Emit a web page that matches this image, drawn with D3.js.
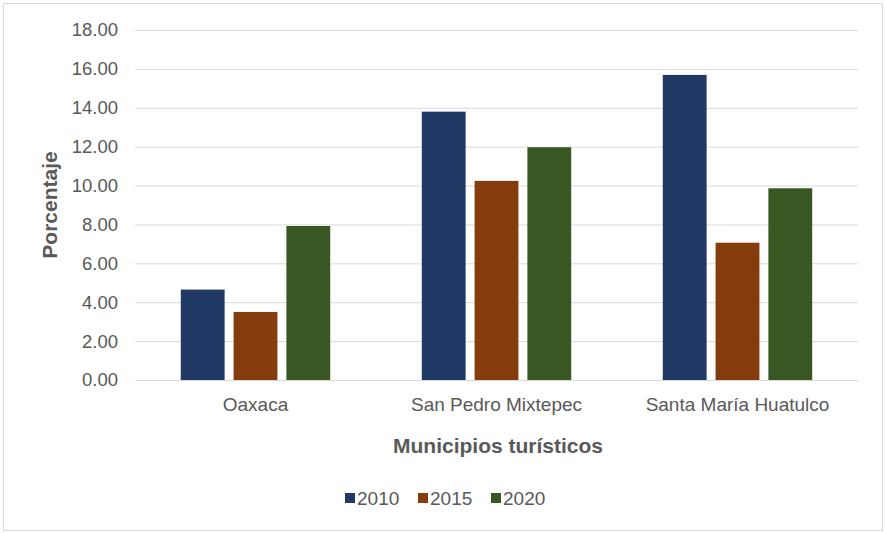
<!DOCTYPE html>
<html>
<head>
<meta charset="utf-8">
<script src="https://cdn.jsdelivr.net/npm/d3@7"></script>
<style>
  html, body { margin: 0; padding: 0; background: #ffffff; }
  svg { display: block; }
</style>
</head>
<body>
<svg id="chart" width="885" height="533"></svg>
<script>
const categories = ["Oaxaca", "San Pedro Mixtepec", "Santa María Huatulco"];
const years = ["2010", "2015", "2020"];
const values2010 = [4.65, 13.80, 15.69];
const values2015 = [3.50, 10.24, 7.06];
const values2020 = [7.92, 11.97, 9.86];
const yTicks = [0, 2, 4, 6, 8, 10, 12, 14, 16, 18];
const colors = ["#203864", "#843C0C", "#385723"];
const yTitle = "Porcentaje";
const xTitle = "Municipios turísticos";

const series = [values2010, values2015, values2020];
const data = categories.map((c, i) => ({
  category: c,
  values: years.map((y, j) => ({ year: y, value: series[j][i] }))
}));

const svg = d3.select("#chart");
const textColor = "#595959";
const fontFamily = "'Liberation Sans', Arial, sans-serif";

// outer border
svg.append("rect")
  .attr("x", 3.5).attr("y", 3.5)
  .attr("width", 879).attr("height", 527)
  .attr("fill", "#ffffff")
  .attr("stroke", "#d9d9d9").attr("stroke-width", 1);

const x0 = d3.scaleBand().domain(categories).range([135, 858])
  .paddingInner(0.38).paddingOuter(0.19);
const x1 = d3.scaleBand().domain(years).range([0, x0.bandwidth()])
  .paddingInner(0.17);
const y = d3.scaleLinear().domain([0, 18]).range([380, 30]);
const color = d3.scaleOrdinal().domain(years).range(colors);

// gridlines + y labels via axis
const yAxis = d3.axisLeft(y).tickValues(yTicks)
  .tickSize(-(858 - 135)).tickPadding(17)
  .tickFormat(d3.format(".2f"));
const gy = svg.append("g").attr("transform", "translate(135,0)").call(yAxis);
gy.select(".domain").remove();
gy.selectAll(".tick line").attr("stroke", "#d9d9d9").attr("stroke-width", 1);
gy.selectAll(".tick text")
  .attr("fill", textColor)
  .style("font-family", fontFamily)
  .style("font-size", "18.5px");

// bars
const groups = svg.append("g").selectAll("g").data(data).join("g")
  .attr("transform", d => `translate(${x0(d.category)},0)`);
groups.selectAll("rect").data(d => d.values).join("rect")
  .attr("x", d => x1(d.year))
  .attr("y", d => y(d.value))
  .attr("width", x1.bandwidth())
  .attr("height", d => y(0) - y(d.value))
  .attr("fill", d => color(d.year));

// x axis labels
const xAxis = d3.axisBottom(x0).tickSize(0).tickPadding(18);
const gx = svg.append("g").attr("transform", "translate(0,380)").call(xAxis);
gx.select(".domain").attr("stroke", "#d9d9d9");
gx.selectAll(".tick text")
  .attr("fill", textColor)
  .style("font-family", fontFamily)
  .style("font-size", "19px");

// axis titles
svg.append("text")
  .attr("transform", "translate(50,205) rotate(-90)")
  .attr("text-anchor", "middle")
  .attr("dy", "0.35em")
  .attr("fill", textColor)
  .style("font-family", fontFamily)
  .style("font-weight", "bold")
  .style("font-size", "21px")
  .text(yTitle);

svg.append("text")
  .attr("x", 498).attr("y", 446)
  .attr("text-anchor", "middle")
  .attr("dy", "0.35em")
  .attr("fill", textColor)
  .style("font-family", fontFamily)
  .style("font-weight", "bold")
  .style("font-size", "21px")
  .text(xTitle);

// legend
const legendX = [345, 418, 491];
const legend = svg.append("g").selectAll("g").data(years).join("g")
  .attr("transform", (d, i) => `translate(${legendX[i]},493)`);
legend.append("rect")
  .attr("width", 10).attr("height", 10)
  .attr("fill", d => color(d));
legend.append("text")
  .attr("x", 12).attr("y", 5)
  .attr("dy", "0.35em")
  .attr("fill", textColor)
  .style("font-family", fontFamily)
  .style("font-size", "19px")
  .text(d => d);
</script>
</body>
</html>
